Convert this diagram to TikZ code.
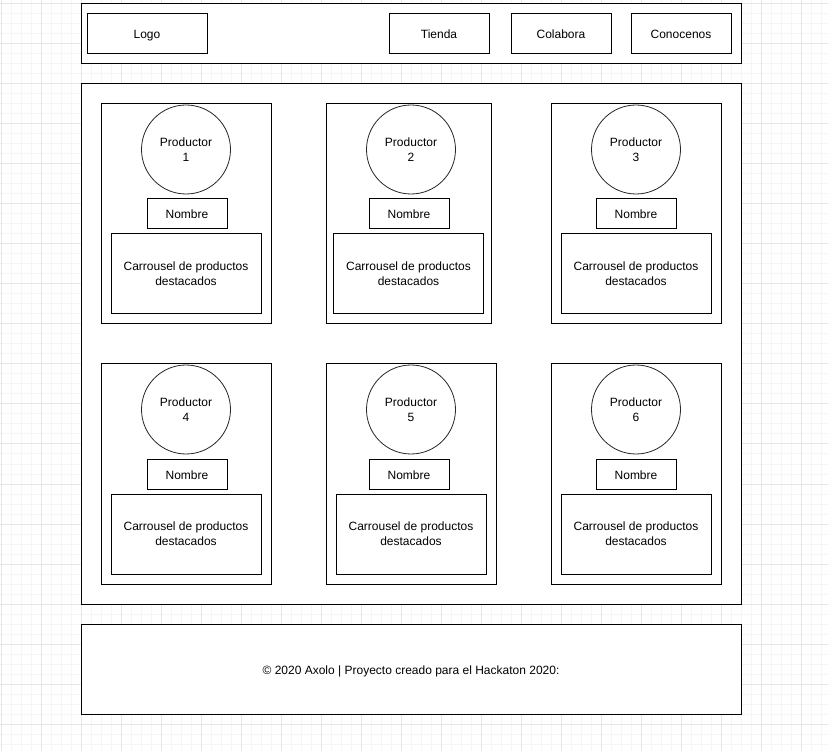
\documentclass[tikz,border=0pt]{standalone}
\usepackage{fontspec}
\setmainfont{Liberation Sans}
\usetikzlibrary{positioning}

\definecolor{gridminor}{RGB}{245,245,245}
\definecolor{gridmajor}{RGB}{230,230,230}

\tikzset{
  panel/.style={draw, line width=1pt, fill=white, inner sep=0pt, outer sep=0pt,
    align=center, font=\fontsize{12}{15}\selectfont},
  oneline/.style={text height=10pt, text depth=0pt},
  menubox/.style={panel, oneline, minimum width=100pt, minimum height=40pt},
  cardbox/.style={panel, minimum height=220pt},
  namebox/.style={panel, oneline, minimum width=80pt, minimum height=30pt},
  carrbox/.style={panel, minimum width=150pt, minimum height=80pt},
  prodcircle/.style={panel, circle, draw=black!85, line width=0.8pt, minimum size=89pt}
}

\begin{document}
\begin{tikzpicture}[x=1pt, y=-1pt]
  \useasboundingbox (0,0) rectangle (828,751);
  \fill[white] (0,0) rectangle (828,751);
  % grid
  \foreach \x in {1,11,...,821} \draw[gridminor, line width=1pt] (\x,0) -- (\x,751);
  \foreach \y in {4,14,...,744} \draw[gridminor, line width=1pt] (0,\y) -- (828,\y);
  \foreach \x in {1,41,...,801} \draw[gridmajor, line width=1pt] (\x,0) -- (\x,751);
  \foreach \y in {4,44,...,724} \draw[gridmajor, line width=1pt] (0,\y) -- (828,\y);

  % header
  \node[panel, minimum width=660pt, minimum height=60pt] (header) at (411,34) {};
  \node[menubox, minimum width=120pt] (logo) at (147,34) {Logo};
  \node[menubox] (tienda) at (439,34) {Tienda};
  \node[menubox] (colabora) at (561,34) {Colabora};
  \node[menubox] (conocenos) at (681,34) {Conocenos};

  % main area
  \node[panel, minimum width=660pt, minimum height=520pt] (main) at (411,344) {};

  \node[cardbox, minimum width=170pt] (card1) at (186,214) {};
  \node[prodcircle] (prod1) at (186,149.5) {Productor\\1};
  \node[namebox] (nombre1) at (187,214) {Nombre};
  \node[carrbox] (carr1) at (186,274) {Carrousel de productos\\destacados};

  \node[cardbox, minimum width=165pt] (card2) at (408.5,214) {};
  \node[prodcircle] (prod2) at (411,149.5) {Productor\\2};
  \node[namebox] (nombre2) at (409,214) {Nombre};
  \node[carrbox] (carr2) at (408.5,274) {Carrousel de productos\\destacados};

  \node[cardbox, minimum width=170pt] (card3) at (636,214) {};
  \node[prodcircle] (prod3) at (636,149.5) {Productor\\3};
  \node[namebox] (nombre3) at (636,214) {Nombre};
  \node[carrbox] (carr3) at (636,274) {Carrousel de productos\\destacados};

  \node[cardbox, minimum width=170pt] (card4) at (186,474) {};
  \node[prodcircle] (prod4) at (186,409.5) {Productor\\4};
  \node[namebox] (nombre4) at (187,474) {Nombre};
  \node[carrbox] (carr4) at (186,534) {Carrousel de productos\\destacados};

  \node[cardbox, minimum width=170pt] (card5) at (411,474) {};
  \node[prodcircle] (prod5) at (411,409.5) {Productor\\5};
  \node[namebox] (nombre5) at (409,474) {Nombre};
  \node[carrbox] (carr5) at (411,534) {Carrousel de productos\\destacados};

  \node[cardbox, minimum width=170pt] (card6) at (636,474) {};
  \node[prodcircle] (prod6) at (636,409.5) {Productor\\6};
  \node[namebox] (nombre6) at (636,474) {Nombre};
  \node[carrbox] (carr6) at (636,534) {Carrousel de productos\\destacados};

  % footer
  \node[panel, oneline, minimum width=660pt, minimum height=90pt] (footer) at (411,669)
    {© 2020 Axolo | Proyecto creado para el Hackaton 2020:};
\end{tikzpicture}
\end{document}
